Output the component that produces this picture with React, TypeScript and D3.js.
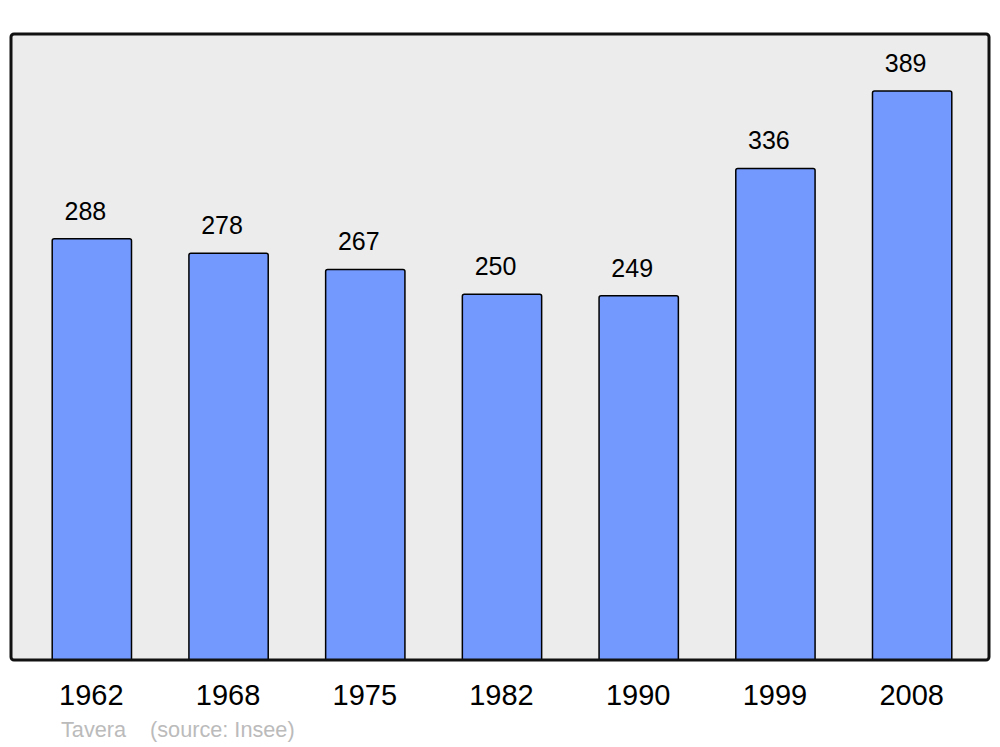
import { scaleBand, scaleLinear } from "d3";

const years = ["1962", "1968", "1975", "1982", "1990", "1999", "2008"];
const population = [288, 278, 267, 250, 249, 336, 389];
const credit = "Tavera";
const source = "(source: Insee)";

const width = 1000;
const height = 747;
const frame = { left: 11, top: 34, right: 989, bottom: 660 };

const App = () => {
  const x = scaleBand()
    .domain(years)
    .range([23.5, 980.5])
    .paddingInner(0.42)
    .paddingOuter(0.21);

  const y = scaleLinear()
    .domain([0, 389 * 1.1])
    .range([frame.bottom, frame.top]);

  const w = frame.right - frame.left;
  const h = frame.bottom - frame.top;

  return (
    <svg
      width={width}
      height={height}
      style={{ position: "absolute", left: 0, top: 0, display: "block" }}
      fontFamily="Liberation Sans, Arial, sans-serif"
    >
      <rect width={width} height={height} fill="#fff" />
      <rect x={frame.left} y={frame.top} width={w} height={h} rx={3} fill="#ececec" />
      <clipPath id="plot">
        <rect x={frame.left} y={frame.top} width={w} height={h} />
      </clipPath>
      <g clipPath="url(#plot)">
        {years.map((yr, i) => {
          const top = y(population[i]);
          return (
            <rect
              key={yr}
              x={x(yr)!}
              y={top}
              width={x.bandwidth()}
              height={frame.bottom - top + 2}
              rx={2}
              fill="#7399ff"
              stroke="#000"
              strokeWidth={1.5}
            />
          );
        })}
      </g>
      {years.map((yr, i) => {
        const top = y(population[i]);
        const cx = x(yr)! + x.bandwidth() / 2;
        return (
          <g key={yr}>
            {/* value labels sit a little left of the bar centre */}
            <text x={cx - 6.5} y={top - 19} textAnchor="middle" fontSize={25}>
              {population[i]}
            </text>
            <text x={cx - 0.5} y={705} textAnchor="middle" fontSize={29}>
              {yr}
            </text>
          </g>
        );
      })}
      <rect
        x={frame.left}
        y={frame.top}
        width={w}
        height={h}
        rx={3}
        fill="none"
        stroke="#111"
        strokeWidth={3}
      />
      <text x={61} y={737} fontSize={21.7} fill="#bbb">
        {credit}
      </text>
      <text x={150} y={737} fontSize={21.7} fill="#bbb">
        {source}
      </text>
    </svg>
  );
};

export default App;
